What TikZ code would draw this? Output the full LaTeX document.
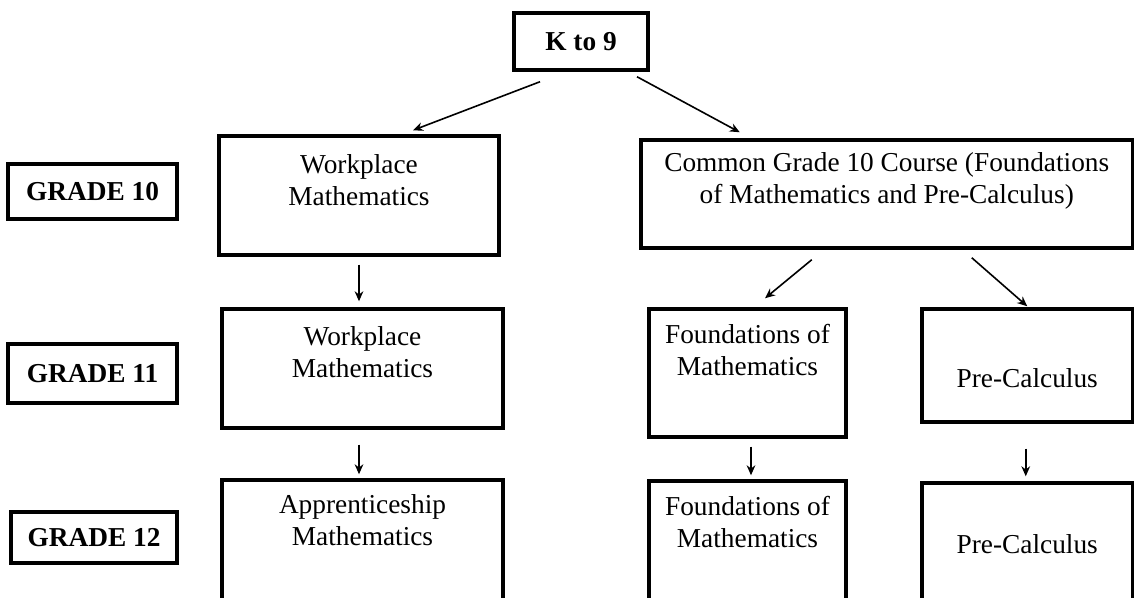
\documentclass[tikz,border=0pt]{standalone}
\usepackage{fontspec}
\setmainfont{Liberation Serif}
\usepackage{tikz}
\usetikzlibrary{arrows.meta,calc}

\tikzset{
  gradebox/.style={draw, line width=2.6pt, inner sep=0pt, font=\fontsize{20.5}{24}\selectfont\bfseries},
  coursebox/.style={draw, line width=2.6pt, inner sep=0pt},
  coursetext/.style={anchor=north, inner sep=0pt, align=center, font=\fontsize{20.5}{24}\selectfont},
  arr/.style={-{Stealth[length=7.5pt,width=6.5pt]}, line width=1.2pt}
}

\begin{document}
\begin{tikzpicture}[x=0.75pt,y=-0.75pt]

%
\useasboundingbox (0,0) rectangle (1135,597);
\clip (0,0) rectangle (1135,597);

%
\node[gradebox, minimum width=100.5pt, minimum height=42.75pt] (k9) at (581,41.5) {K to 9};

%
\node[gradebox, minimum width=126.75pt, minimum height=41.25pt] (g10) at (92.5,191.5) {GRADE 10};
\node[gradebox, minimum width=126.75pt, minimum height=44.25pt] (g11) at (92.5,373.5) {GRADE 11};
\node[gradebox, minimum width=124.5pt, minimum height=38.25pt] (g12) at (94,537.5) {GRADE 12};

%
\node[coursebox, minimum width=210pt, minimum height=89.25pt,
  label={[coursetext, yshift=-15pt]north:Workplace\\Mathematics}] (wp10) at (359,195.5) {};
\node[coursebox, minimum width=368.6pt, minimum height=81pt,
  label={[coursetext, yshift=-10.5pt]north:Common Grade 10 Course (Foundations\\of Mathematics and Pre-Calculus)}] (common) at (886.75,194) {};

%
\node[coursebox, minimum width=210.75pt, minimum height=89.25pt,
  label={[coursetext, yshift=-14.25pt]north:Workplace\\Mathematics}] (wp11) at (362.5,368.5) {};
\node[coursebox, minimum width=147.75pt, minimum height=96pt,
  label={[coursetext, yshift=-12.75pt]north:Foundations of\\Mathematics}] (f11) at (747.5,373) {};
\node[coursebox, minimum width=157.9pt, minimum height=84.75pt,
  label={[coursetext, yshift=-45.75pt]north:Pre-Calculus}] (pc11) at (1027.25,365.5) {};

%
\node[coursebox, minimum width=210.75pt, minimum height=105pt,
  label={[coursetext, yshift=-12pt]north:Apprenticeship\\Mathematics}] (ap12) at (362.5,550) {};
\node[coursebox, minimum width=147.75pt, minimum height=104.25pt,
  label={[coursetext, yshift=-12.75pt]north:Foundations of\\Mathematics}] (f12) at (747.5,550.5) {};
\node[coursebox, minimum width=157.9pt, minimum height=102.75pt,
  label={[coursetext, yshift=-39.75pt]north:Pre-Calculus}] (pc12) at (1027.25,551.5) {};

%
\draw[arr] ($(k9.south)+(-41,10)$) -- ($(wp10.north)+(54,-4)$);
\draw[arr] ($(k9.south)+(56,5)$) -- ($(common.north)+(-147,-6)$);

%
\draw[arr] ($(wp10.south)+(0,8)$) -- ($(wp11.north)+(-3.5,-6)$);
\draw[arr] ($(common.south)+(-75,10)$) -- ($(f11.north)+(17.5,-9)$);
\draw[arr] ($(common.south)+(85,8)$) -- ($(pc11.north)+(0,-1)$);

%
\draw[arr] ($(wp11.south)+(-3.5,15)$) -- ($(ap12.north)+(-3.5,-4)$);
\draw[arr] ($(f11.south)+(3.5,8)$) -- ($(f12.north)+(3.5,-4)$);
\draw[arr] ($(pc11.south)+(-1.5,25)$) -- ($(pc12.north)+(-1.5,-5)$);

\end{tikzpicture}
\end{document}
